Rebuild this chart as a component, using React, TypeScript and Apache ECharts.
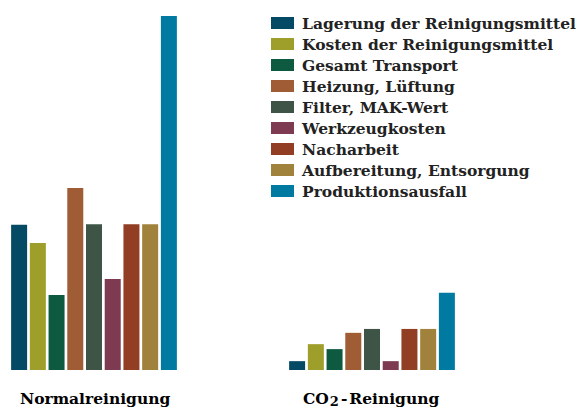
import React, { useEffect, useRef } from "react";
import * as echarts from "echarts";

const categories = ["Normalreinigung", "CO2-Reinigung"];
const seriesNames = [
  "Lagerung der Reinigungsmittel",
  "Kosten der Reinigungsmittel",
  "Gesamt Transport",
  "Heizung, Lüftung",
  "Filter, MAK-Wert",
  "Werkzeugkosten",
  "Nacharbeit",
  "Aufbereitung, Entsorgung",
  "Produktionsausfall",
];
const normalValues = [41, 35.9, 21.2, 51.4, 41.2, 25.7, 41.2, 41.2, 100];
const co2Values = [2.5, 7.3, 5.9, 10.5, 11.6, 2.5, 11.6, 11.6, 21.8];
const colors = [
  "#044a64",
  "#9e9e2a",
  "#0d5a40",
  "#a05d35",
  "#3e5446",
  "#7e3a50",
  "#913e25",
  "#a0823d",
  "#007aa0",
];

const FONT = "DejaVu Serif";

export default function App() {
  const ref = useRef<HTMLDivElement>(null);
  useEffect(() => {
    if (!ref.current) return;
    const chart = echarts.init(ref.current, null, { renderer: "svg" });
    const base = { fontFamily: FONT, fontWeight: "bold", fontSize: 15.5, color: "#222", verticalAlign: "top", lineHeight: 18 };
    chart.setOption({
      animation: false,
      color: colors,
      grid: {
        left: -45,
        right: 68,
        top: 16,
        bottom: 38,
        containLabel: false,
        outerBoundsMode: "none",
      },
      legend: {
        orient: "vertical",
        left: 271,
        top: 15,
        padding: 0,
        icon: "rect",
        itemWidth: 23,
        itemHeight: 12,
        itemGap: 5,
        textStyle: {
          fontFamily: FONT,
          fontWeight: "bold",
          fontSize: 15.5,
          lineHeight: 16,
          color: "#222",
          padding: [0, 0, 0, 3],
        },
        data: seriesNames,
      },
      xAxis: {
        type: "category",
        data: categories,
        axisLine: { show: false },
        axisTick: { show: false },
        axisLabel: { show: false },
      },
      yAxis: {
        type: "value",
        min: 0,
        max: 100,
        show: false,
        splitLine: { show: false },
      },
      series: seriesNames.map((name, i) => ({
        name,
        type: "bar",
        barWidth: 16,
        barGap: "17%",
        data: [normalValues[i], co2Values[i]],
      })),
      graphic: [
        {
          type: "text",
          left: 20,
          top: 390,
          style: {
            text: "{a|Normalreinigung}",
            rich: { a: base },
          },
        },
        {
          type: "text",
          left: 303,
          top: 390,
          style: {
            text: "{a|CO}{s|2}{h|-}{a|Reinigung}",
            rich: {
              a: base,
              s: { ...base, fontSize: 13, lineHeight: 15, padding: [5, 0, 0, 1] },
              h: { ...base, padding: [0, 2, 0, 2] },
            },
          },
        },
      ],
    });
    return () => chart.dispose();
  }, []);
  return (
    <div
      ref={ref}
      style={{ position: "absolute", left: 0, top: 0, width: 579, height: 408 }}
    />
  );
}
